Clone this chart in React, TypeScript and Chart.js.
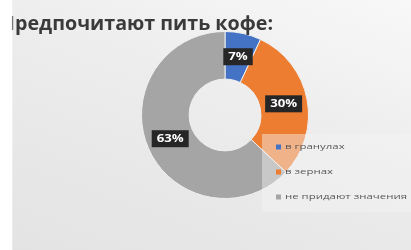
import React, { useEffect, useRef } from "react";
import { Chart, registerables } from "chart.js";

Chart.register(...registerables);

const titleText = "Предпочитают пить кофе:";
const categories = ["в гранулах", "в зернах", "не придают значения"];
const values = [7, 30, 63];
const valueLabels = ["7%", "30%", "63%"];
const colors = ["#4472c4", "#ed7d31", "#a5a5a5"];

const FONT = '"Open Sans", "Liberation Sans", sans-serif';

function stretchedText(ctx: CanvasRenderingContext2D, text: string, x: number, y: number, sx: number) {
  ctx.save();
  ctx.translate(x, y);
  ctx.scale(sx, 1);
  ctx.fillText(text, 0, 0);
  ctx.restore();
}

const overlayPlugin = {
  id: "overlay",
  afterDraw(chart: any) {
    const ctx: CanvasRenderingContext2D = chart.ctx;
    ctx.save();

    // legend panel
    ctx.fillStyle = "rgba(245,245,245,0.45)";
    ctx.fillRect(262, 134, 149, 78);

    // legend items
    ctx.font = `8px ${FONT}`;
    const longest = categories.reduce((a, b) => (ctx.measureText(b).width > ctx.measureText(a).width ? b : a));
    const lsx = 122 / ctx.measureText(longest).width;
    ctx.textBaseline = "middle";
    ctx.textAlign = "left";
    categories.forEach((c, i) => {
      const y = 147 + i * 25;
      ctx.fillStyle = colors[i];
      ctx.fillRect(276, y - 2.5, 5, 5);
      ctx.fillStyle = "#595959";
      stretchedText(ctx, c, 285, y, lsx);
    });

    // data labels
    const meta = chart.getDatasetMeta(0);
    ctx.font = `bold 11px ${FONT}`;
    const dsx = 1.2;
    meta.data.forEach((arc: any, i: number) => {
      const p = arc.tooltipPosition();
      const t = valueLabels[i];
      const tw = ctx.measureText(t).width * dsx;
      const bw = tw + 10;
      const bh = 17;
      ctx.fillStyle = "#262626";
      ctx.fillRect(p.x - bw / 2, p.y - bh / 2, bw, bh);
      ctx.fillStyle = "#ffffff";
      ctx.textBaseline = "middle";
      stretchedText(ctx, t, p.x - tw / 2, p.y + 0.5, dsx);
    });

    // title
    ctx.font = `bold 19px ${FONT}`;
    const wFirst = ctx.measureText(titleText.slice(0, 1)).width;
    const wRest = ctx.measureText(titleText.slice(1)).width;
    const tsx = (273 - 15) / wRest;
    ctx.fillStyle = "#3a3a3a";
    ctx.textBaseline = "alphabetic";
    stretchedText(ctx, titleText, 15 - wFirst * tsx, 30, tsx);

    // left light strip
    const g = ctx.createLinearGradient(0, 0, 13, 0);
    g.addColorStop(0, "rgba(255,255,255,1)");
    g.addColorStop(0.88, "rgba(255,255,255,1)");
    g.addColorStop(1, "rgba(255,255,255,0)");
    ctx.fillStyle = g;
    ctx.fillRect(0, 0, 13, 250);

    ctx.restore();
  },
};

export default function App() {
  const ref = useRef<HTMLCanvasElement | null>(null);
  useEffect(() => {
    if (!ref.current) return;
    const chart = new Chart(ref.current, {
      type: "doughnut",
      data: {
        labels: categories,
        datasets: [
          {
            data: values,
            backgroundColor: colors,
            borderColor: "#eeeeee",
            borderWidth: 1,
          },
        ],
      },
      options: {
        responsive: false,
        animation: false,
        cutout: "43%",
        layout: { padding: { left: 141, right: 102, top: 31, bottom: 51 } },
        plugins: { legend: { display: false }, tooltip: { enabled: false }, title: { display: false } },
      },
      plugins: [overlayPlugin],
    });
    return () => chart.destroy();
  }, []);
  return (
    <div
      style={{
        position: "absolute",
        left: 0,
        top: 0,
        width: 411,
        height: 250,
        background: "linear-gradient(200deg, #f8f8f8 0%, #ececec 45%, #e3e3e3 100%)",
      }}
    >
      <canvas ref={ref} width={411} height={250} style={{ display: "block" }} />
    </div>
  );
}
